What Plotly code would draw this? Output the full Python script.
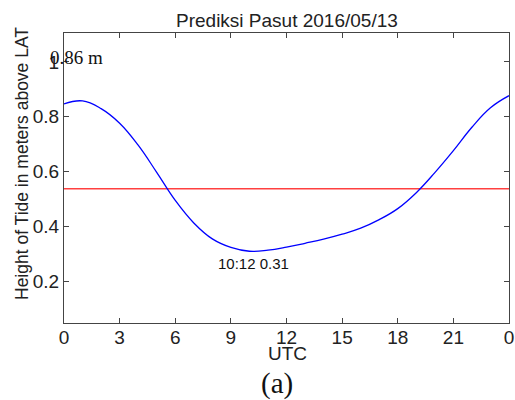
import plotly.graph_objects as go

# Tide prediction, hourly heights (m above LAT) for 2016/05/13
hours = list(range(0, 25))
height = [0.847, 0.858, 0.830, 0.777, 0.697, 0.598, 0.496, 0.414, 0.356, 0.325,
          0.311, 0.315, 0.326, 0.340, 0.355, 0.373, 0.395, 0.426, 0.466, 0.524,
          0.597, 0.677, 0.762, 0.833, 0.877]
mean_level = 0.538

x_ticks = [0, 3, 6, 9, 12, 15, 18, 21, 24]
x_ticklabels = ["0", "3", "6", "9", "12", "15", "18", "21", "0"]
y_ticks = [0.2, 0.4, 0.6, 0.8, 1.0]
y_ticklabels = ["0.2", "0.4", "0.6", "0.8", "1"]

W, H = 515, 400
L, R, T, B = 64, 6, 33, 77
pw, ph = W - L - R, H - T - B


def px(xp):
    return (xp - L) / pw


def py(yp):
    return (H - B - yp) / ph


SANS = "Liberation Sans, Arial"
SERIF = "Liberation Serif, Times New Roman"
INK = "#222222"

fig = go.Figure()
fig.add_trace(go.Scatter(x=[0, 24], y=[mean_level, mean_level], mode="lines",
                         line=dict(color="#ff4040", width=1.5), hoverinfo="skip"))
fig.add_trace(go.Scatter(x=hours, y=height, mode="lines",
                         line=dict(color="#0000ff", width=1.3, shape="spline",
                                   smoothing=1.2)))

axis_common = dict(showline=True, linecolor="#444444", linewidth=1, mirror="ticks",
                   ticks="inside", ticklen=5, tickcolor="#444444", showgrid=False,
                   zeroline=False, automargin=False,
                   tickfont=dict(family=SANS, size=19, color=INK))

fig.update_xaxes(range=[0, 24], tickvals=x_ticks, ticktext=x_ticklabels,
                 ticklabelstandoff=-3, **axis_common)
fig.update_yaxes(range=[0.05, 1.105], tickvals=y_ticks, ticktext=y_ticklabels,
                 **axis_common)

# Title and axis titles
fig.add_annotation(x=px(286.5), y=py(20), xref="paper", yref="paper",
                   text="Prediksi Pasut 2016/05/13", showarrow=False,
                   xanchor="center", yanchor="middle",
                   font=dict(family=SANS, size=19, color=INK))
fig.add_annotation(x=px(287), y=py(353), xref="paper", yref="paper", text="UTC",
                   showarrow=False, xanchor="center", yanchor="middle",
                   font=dict(family=SANS, size=19, color=INK))
fig.add_annotation(x=px(22), y=py(164), xref="paper", yref="paper",
                   text="Height of Tide in meters above LAT", textangle=-90,
                   showarrow=False, xanchor="center", yanchor="middle",
                   font=dict(family=SANS, size=17.5, color=INK))

# Peak and low-water labels
fig.add_annotation(x=px(48), y=py(57), xref="paper", yref="paper", text="0.86 m",
                   showarrow=False, xanchor="left", yanchor="middle",
                   font=dict(family=SERIF, size=19, color="#111111"))
fig.add_annotation(x=10.2, y=py(263), xref="x", yref="paper", text="10:12 0.31",
                   showarrow=False, xanchor="center", yanchor="middle",
                   font=dict(family=SANS, size=15, color="#111111"))

# Panel label
fig.add_annotation(x=px(276.5), y=py(383), xref="paper", yref="paper", text="(a)",
                   showarrow=False, xanchor="center", yanchor="middle",
                   font=dict(family=SERIF, size=29, color="#111111"))

fig.update_layout(
    width=W, height=H,
    margin=dict(l=L, r=R, t=T, b=B),
    paper_bgcolor="white", plot_bgcolor="white",
    showlegend=False,
)

fig.write_html("out.html")
